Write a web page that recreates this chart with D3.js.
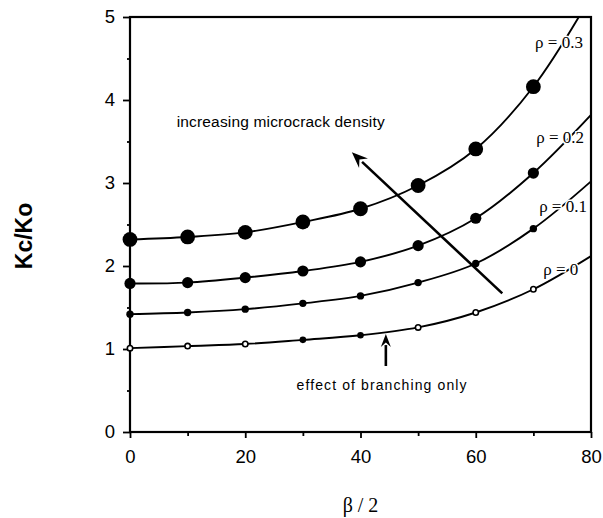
<!DOCTYPE html>
<html>
<head>
<meta charset="utf-8">
<script src="https://cdn.jsdelivr.net/npm/d3@7"></script>
<style>
  html, body { margin: 0; padding: 0; background: #fff; }
  #chart { width: 603px; height: 518px; }
  .tick text { font-family: "Liberation Sans", Arial, sans-serif; font-size: 18.5px; fill: #000; }
</style>
</head>
<body>
<div id="chart"></div>
<script>
// beta/2 values where the points were measured
const beta = [0, 10, 20, 30, 40, 50, 60, 70];

// Kc/Ko for each microcrack density
const rho0  = [1.01, 1.035, 1.06, 1.11, 1.165, 1.26, 1.44, 1.72];
const rho01 = [1.42, 1.44, 1.48, 1.55, 1.64, 1.80, 2.03, 2.45];
const rho02 = [1.79, 1.80, 1.86, 1.94, 2.05, 2.245, 2.575, 3.12];
const rho03 = [2.32, 2.35, 2.405, 2.53, 2.69, 2.97, 3.41, 4.16];

// ρ = 0 has hollow markers except at 30 and 40
const rho0Filled = [false, false, false, true, true, false, false, false];

// where each fitted curve leaves the frame at beta/2 = 80
const curveEndBeta = 80;
const curveEnd = [2.12, 3.02, 3.82, 5.25];

const rhoLabels = ["ρ = 0", "ρ = 0.1", "ρ = 0.2", "ρ = 0.3"];
const markerRadius = [3.3, 3.7, 5.6, 7.4];

const xTicks = [0, 20, 40, 60, 80];
const xMinorTicks = [10, 30, 50, 70];
const yTicks = [0, 1, 2, 3, 4, 5];
const yMinorTicks = [0.5, 1.5, 2.5, 3.5, 4.5];

const margin = { left: 130, right: 12, top: 17, bottom: 86 };
const width = 603, height = 518;

const svg = d3.select("#chart").append("svg")
    .attr("width", width)
    .attr("height", height);

const x = d3.scaleLinear().domain([0, 80]).range([margin.left, width - margin.right]);
const y = d3.scaleLinear().domain([0, 5]).range([height - margin.bottom, margin.top]);

svg.append("defs").append("clipPath")
    .attr("id", "plot-clip")
  .append("rect")
    .attr("x", x(0))
    .attr("y", y(5))
    .attr("width", x(80) - x(0))
    .attr("height", y(0) - y(5));

// axes (major + minor ticks)
function styleAxis(g) {
  g.select(".domain").remove();
  g.selectAll(".tick line").attr("stroke", "#000").attr("stroke-width", 1.8);
}

svg.append("g")
    .attr("transform", `translate(0,${y(0)})`)
    .call(d3.axisBottom(x).tickValues(xTicks).tickFormat(d3.format("d")).tickSize(6).tickPadding(12))
    .call(styleAxis);

svg.append("g")
    .attr("transform", `translate(0,${y(0)})`)
    .call(d3.axisBottom(x).tickValues(xMinorTicks).tickFormat("").tickSize(4))
    .call(styleAxis);

svg.append("g")
    .attr("transform", `translate(${x(0)},0)`)
    .call(d3.axisLeft(y).tickValues(yTicks).tickFormat(d3.format("d")).tickSize(7).tickPadding(8))
    .call(styleAxis);

svg.append("g")
    .attr("transform", `translate(${x(0)},0)`)
    .call(d3.axisLeft(y).tickValues(yMinorTicks).tickFormat("").tickSize(3))
    .call(styleAxis);

// frame
svg.append("rect")
    .attr("x", x(0))
    .attr("y", y(5))
    .attr("width", x(80) - x(0))
    .attr("height", y(0) - y(5))
    .attr("fill", "none")
    .attr("stroke", "#000")
    .attr("stroke-width", 2.2);

// curves and markers
const series = [rho0, rho01, rho02, rho03].map((vals, i) => ({
  label: rhoLabels[i],
  r: markerRadius[i],
  points: beta.map((b, j) => ({ b: b, k: vals[j], filled: i > 0 || rho0Filled[j] })),
  end: { b: curveEndBeta, k: curveEnd[i] }
}));

const line = d3.line()
    .x(d => x(d.b))
    .y(d => y(d.k))
    .curve(d3.curveCatmullRom.alpha(0.5));

svg.append("g")
    .attr("clip-path", "url(#plot-clip)")
  .selectAll("path")
  .data(series)
  .join("path")
    .attr("d", d => line(d.points.concat([d.end])))
    .attr("fill", "none")
    .attr("stroke", "#000")
    .attr("stroke-width", 1.9);

series.forEach(s => {
  svg.append("g")
    .selectAll("circle")
    .data(s.points)
    .join("circle")
      .attr("cx", d => x(d.b))
      .attr("cy", d => y(d.k))
      .attr("r", d => d.filled ? s.r : s.r - 0.6)
      .attr("fill", d => d.filled ? "#000" : "#fff")
      .attr("stroke", "#000")
      .attr("stroke-width", d => d.filled ? 0 : 1.6);
});

// ρ labels next to the curves
const rhoLabelPos = [[71.7, 1.89], [71.0, 2.65], [70.5, 3.48], [70.3, 4.63]];
svg.append("g")
  .selectAll("text")
  .data(series)
  .join("text")
    .attr("x", (d, i) => x(rhoLabelPos[i][0]))
    .attr("y", (d, i) => y(rhoLabelPos[i][1]))
    .attr("font-family", "'Liberation Serif', 'Times New Roman', serif")
    .attr("font-size", "17px")
    .attr("fill", "#000")
    .attr("stroke", "#fff")
    .attr("stroke-width", 3)
    .attr("paint-order", "stroke")
    .text(d => d.label);

// annotations with arrows
const arrowMain = { from: [64.6, 1.67], to: [38.5, 3.37] };
const arrowBranch = { from: [44.4, 0.795], to: [44.4, 1.18] };

function drawArrow(a, headLen, headWidth) {
  const x1 = x(a.from[0]), y1 = y(a.from[1]);
  const x2 = x(a.to[0]), y2 = y(a.to[1]);
  const ang = Math.atan2(y2 - y1, x2 - x1);
  const bx = x2 - headLen * Math.cos(ang), by = y2 - headLen * Math.sin(ang);
  const px = -Math.sin(ang) * headWidth / 2, py = Math.cos(ang) * headWidth / 2;

  svg.append("line")
      .attr("x1", x1).attr("y1", y1)
      .attr("x2", bx + 2 * Math.cos(ang)).attr("y2", by + 2 * Math.sin(ang))
      .attr("stroke", "#000")
      .attr("stroke-width", 2.6);

  svg.append("path")
      .attr("d", `M${x2},${y2}L${bx + px},${by + py}L${bx + 0.35 * headLen * Math.cos(ang)},${by + 0.35 * headLen * Math.sin(ang)}L${bx - px},${by - py}Z`)
      .attr("fill", "#000");
}

drawArrow(arrowMain, 16, 13);
drawArrow(arrowBranch, 13, 10);

svg.append("text")
    .attr("x", x(8.1))
    .attr("y", y(3.67))
    .attr("font-family", "'Liberation Sans', Arial, sans-serif")
    .attr("font-size", "15.5px")
    .attr("textLength", 208)
    .attr("lengthAdjust", "spacing")
    .text("increasing microcrack density");

svg.append("text")
    .attr("x", x(28.9))
    .attr("y", y(0.506))
    .attr("font-family", "'Liberation Sans', Arial, sans-serif")
    .attr("font-size", "14px")
    .attr("textLength", 170)
    .attr("lengthAdjust", "spacing")
    .text("effect of branching only");

// axis titles
svg.append("text")
    .attr("transform", "translate(31.5,236) rotate(-90)")
    .attr("text-anchor", "middle")
    .attr("font-family", "'Liberation Sans', Arial, sans-serif")
    .attr("font-weight", "bold")
    .attr("font-size", "23px")
    .text("Kc/Ko");

svg.append("text")
    .attr("x", (x(0) + x(80)) / 2)
    .attr("y", 512)
    .attr("text-anchor", "middle")
    .attr("font-family", "'Liberation Serif', 'Times New Roman', serif")
    .attr("font-size", "20px")
    .text("β / 2");
</script>
</body>
</html>
